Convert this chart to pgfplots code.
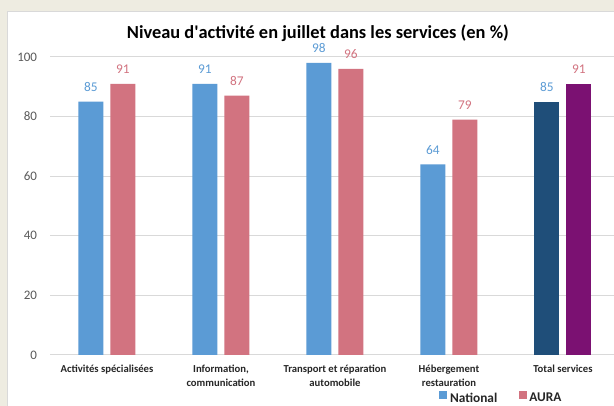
\documentclass[border=0pt]{standalone}
\usepackage{fontspec}
\setmainfont{Carlito}
\usepackage{pgfplots}
\pgfplotsset{compat=1.18}

\definecolor{bgbeige}{HTML}{EEECE1}
\definecolor{framegray}{HTML}{D9D9D9}
\definecolor{gridgray}{HTML}{D9D9D9}
\definecolor{ticktext}{HTML}{595959}
\definecolor{natBlue}{HTML}{5B9BD5}
\definecolor{auraPink}{HTML}{D27380}
\definecolor{totBlue}{HTML}{1F4E79}
\definecolor{totPurple}{HTML}{7B1172}

\begin{document}
\begin{tikzpicture}
% slide background and chart area (614x406 px, 1px = 0.75pt)
\fill[bgbeige] (0,0) rectangle (460.5pt,304.5pt);
\filldraw[fill=white, draw=framegray, line width=0.75pt] (5.25pt,-2pt) rectangle (465pt,295.5pt);

\begin{axis}[
  at={(37.5pt,38.25pt)}, anchor=south west,
  scale only axis,
  width=423pt, height=223.5pt,
  xmin=-0.5, xmax=4.448,
  ymin=0, ymax=100,
  ytick={0,20,...,100},
  xtick={0,1,2,3,4},
  xticklabels={
    {Activités spécialisées},
    {Information,\\communication},
    {Transport et réparation\\automobile},
    {Hébergement\\restauration},
    {Total services}
  },
  axis line style={draw=none},
  major tick style={draw=none},
  ymajorgrids,
  grid style={draw=gridgray, line width=0.75pt},
  /pgf/number format/assume math mode=true,
  yticklabel style={font=\fontsize{9.75}{11}\selectfont, text=ticktext,
    anchor=east, inner sep=0pt, xshift=-9.5pt},
  xticklabel style={font=\fontsize{8}{10.5}\selectfont\bfseries, text=black!85,
    align=center, anchor=north, inner sep=0pt, yshift=-7.5pt},
  title={Niveau d\textquotesingle activité en juillet dans les services (en~\%)},
  title style={font=\fontsize{13.8}{16}\selectfont\bfseries, text=black,
    at={(0.475,1.034)}, anchor=base, inner sep=0pt},
  legend columns=2,
  legend style={draw=none, fill=none, at={(0.801,-0.146)}, anchor=center,
    font=\fontsize{10}{12}\selectfont\bfseries, text=black!85,
    /tikz/every even column/.append style={column sep=14pt}},
  legend cell align=left,
]
\addplot[ybar, bar width=18.75pt, bar shift=-12pt, fill=natBlue, draw=none,
  nodes near coords,
  nodes near coords style={font=\fontsize{10}{12}\selectfont, text=natBlue,
    anchor=south, inner sep=0pt, xshift=-12pt, yshift=7.3pt},
  legend image code/.code={\fill[natBlue] (0pt,0pt) rectangle (6pt,6pt);}]
  coordinates {(0,85) (1,91) (2,98) (3,64)};
\addlegendentry{National}
\addplot[ybar, bar width=18.75pt, bar shift=12pt, fill=auraPink, draw=none,
  nodes near coords,
  nodes near coords style={font=\fontsize{10}{12}\selectfont, text=auraPink,
    anchor=south, inner sep=0pt, xshift=12pt, yshift=7.3pt},
  legend image code/.code={\fill[auraPink] (0pt,0pt) rectangle (6pt,6pt);}]
  coordinates {(0,91) (1,87) (2,96) (3,79)};
\addlegendentry{AURA}
\addplot[ybar, bar width=18.75pt, bar shift=-12pt, fill=totBlue, draw=none,
  forget plot, nodes near coords,
  nodes near coords style={font=\fontsize{10}{12}\selectfont, text=natBlue,
    anchor=south, inner sep=0pt, xshift=-12pt, yshift=7.3pt}]
  coordinates {(4,85)};
\addplot[ybar, bar width=18.75pt, bar shift=12pt, fill=totPurple, draw=none,
  forget plot, nodes near coords,
  nodes near coords style={font=\fontsize{10}{12}\selectfont, text=auraPink,
    anchor=south, inner sep=0pt, xshift=12pt, yshift=7.3pt}]
  coordinates {(4,91)};
\end{axis}
\pgfresetboundingbox
\path[use as bounding box] (0,0) rectangle (460.5pt,304.5pt);
\end{tikzpicture}
\end{document}
